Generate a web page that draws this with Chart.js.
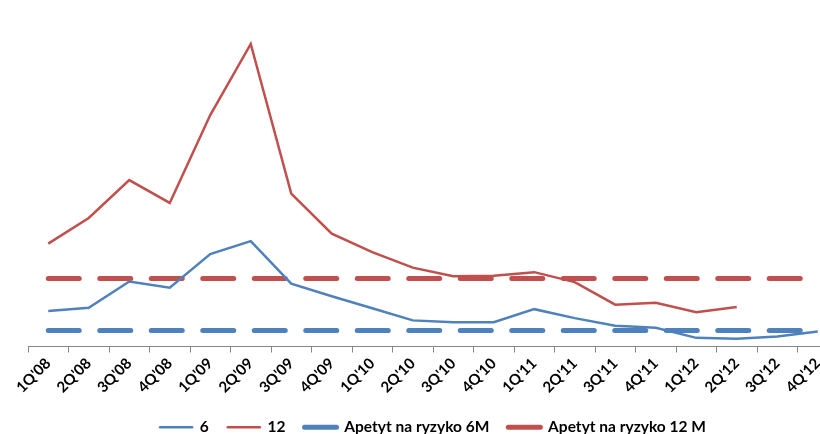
<!DOCTYPE html>
<html>
<head>
<meta charset="utf-8">
<script src="https://cdn.jsdelivr.net/npm/chart.js@4.4.1/dist/chart.umd.min.js"></script>
<style>
  html, body { margin: 0; padding: 0; background: #fff; overflow: hidden; }
  #wrap { width: 860px; height: 445px; position: relative; }
</style>
</head>
<body>
<div id="wrap"><canvas id="chart"></canvas></div>
<script>
// dane
const quarters = ["1Q'08", "2Q'08", "3Q'08", "4Q'08", "1Q'09", "2Q'09", "3Q'09", "4Q'09",
                  "1Q'10", "2Q'10", "3Q'10", "4Q'10", "1Q'11", "2Q'11", "3Q'11", "4Q'11",
                  "1Q'12", "2Q'12", "3Q'12", "4Q'12"];
const series6 = [2.21, 2.42, 4.06, 3.67, 5.77, 6.58, 3.92, 3.14, 2.39, 1.63,
                 1.52, 1.52, 2.33, 1.77, 1.29, 1.17, 0.54, 0.48, 0.63, 0.94];
const series12 = [6.42, 8.02, 10.38, 8.96, 14.44, 18.88, 9.54, 7.04, 5.89, 4.92,
                  4.38, 4.42, 4.64, 4.02, 2.61, 2.73, 2.14, 2.46, null, null];
const appetite6M = [1.0, 1.0, 1.0, 1.0, 1.0, 1.0, 1.0, 1.0, 1.0, 1.0,
                    1.0, 1.0, 1.0, 1.0, 1.0, 1.0, 1.0, 1.0, 1.0, 1.0];
const appetite12M = [4.25, 4.25, 4.25, 4.25, 4.25, 4.25, 4.25, 4.25, 4.25, 4.25,
                     4.25, 4.25, 4.25, 4.25, 4.25, 4.25, 4.25, 4.25, 4.25, 4.25];

const BLUE = '#4F81BD';
const RED = '#C0504D';
const FONT = 'Lato, Calibri, "Liberation Sans", sans-serif';

const ctx = document.getElementById('chart').getContext('2d');

new Chart(ctx, {
    type: 'line',
    data: {
        labels: quarters,
        datasets: [
            { label: '6', data: series6, borderColor: BLUE, borderWidth: 2.5 },
            { label: '12', data: series12, borderColor: RED, borderWidth: 2.5 },
            { label: 'Apetyt na ryzyko 6M', data: appetite6M, borderColor: BLUE, borderWidth: 5,
              borderDash: [31, 20.5], borderCapStyle: 'round' },
            { label: 'Apetyt na ryzyko 12 M', data: appetite12M, borderColor: RED, borderWidth: 5,
              borderDash: [31, 20.5], borderCapStyle: 'round' }
        ]
    },
    options: {
        responsive: true,
        maintainAspectRatio: false,
        animation: false,
        elements: {
            point: { radius: 0, hoverRadius: 0 },
            line: { tension: 0, fill: false }
        },
        layout: { padding: { left: 28, right: 22, top: 26, bottom: 0 } },
        scales: {
            x: {
                offset: true,
                afterFit: function(scale) {
                    // etykiety trochę niżej, legenda przy dolnej krawędzi
                    scale.height += 2;
                },
                grid: {
                    display: true,
                    drawOnChartArea: false,
                    drawTicks: true,
                    tickLength: 6,
                    offset: true,
                    color: '#868686'
                },
                border: { display: true, color: '#868686', width: 1 },
                ticks: {
                    autoSkip: false,
                    minRotation: 45,
                    maxRotation: 45,
                    color: '#000',
                    padding: 2,
                    font: { family: FONT, size: 15, weight: 'bold' }
                }
            },
            y: {
                display: false,
                min: 0,
                max: 20
            }
        },
        plugins: {
            tooltip: { enabled: false },
            legend: {
                position: 'bottom',
                labels: {
                    usePointStyle: true,
                    pointStyle: 'line',
                    pointStyleWidth: 32,
                    padding: 19,
                    color: '#000',
                    font: { family: FONT, size: 15.5, weight: 'bold' },
                    generateLabels: function(chart) {
                        const items = Chart.defaults.plugins.legend.labels.generateLabels(chart);
                        items.forEach(item => {
                            item.lineDash = [];
                            item.lineCap = 'round';
                            item.pointStyle = 'line';
                        });
                        return items;
                    }
                }
            }
        }
    }
});
</script>
</body>
</html>
